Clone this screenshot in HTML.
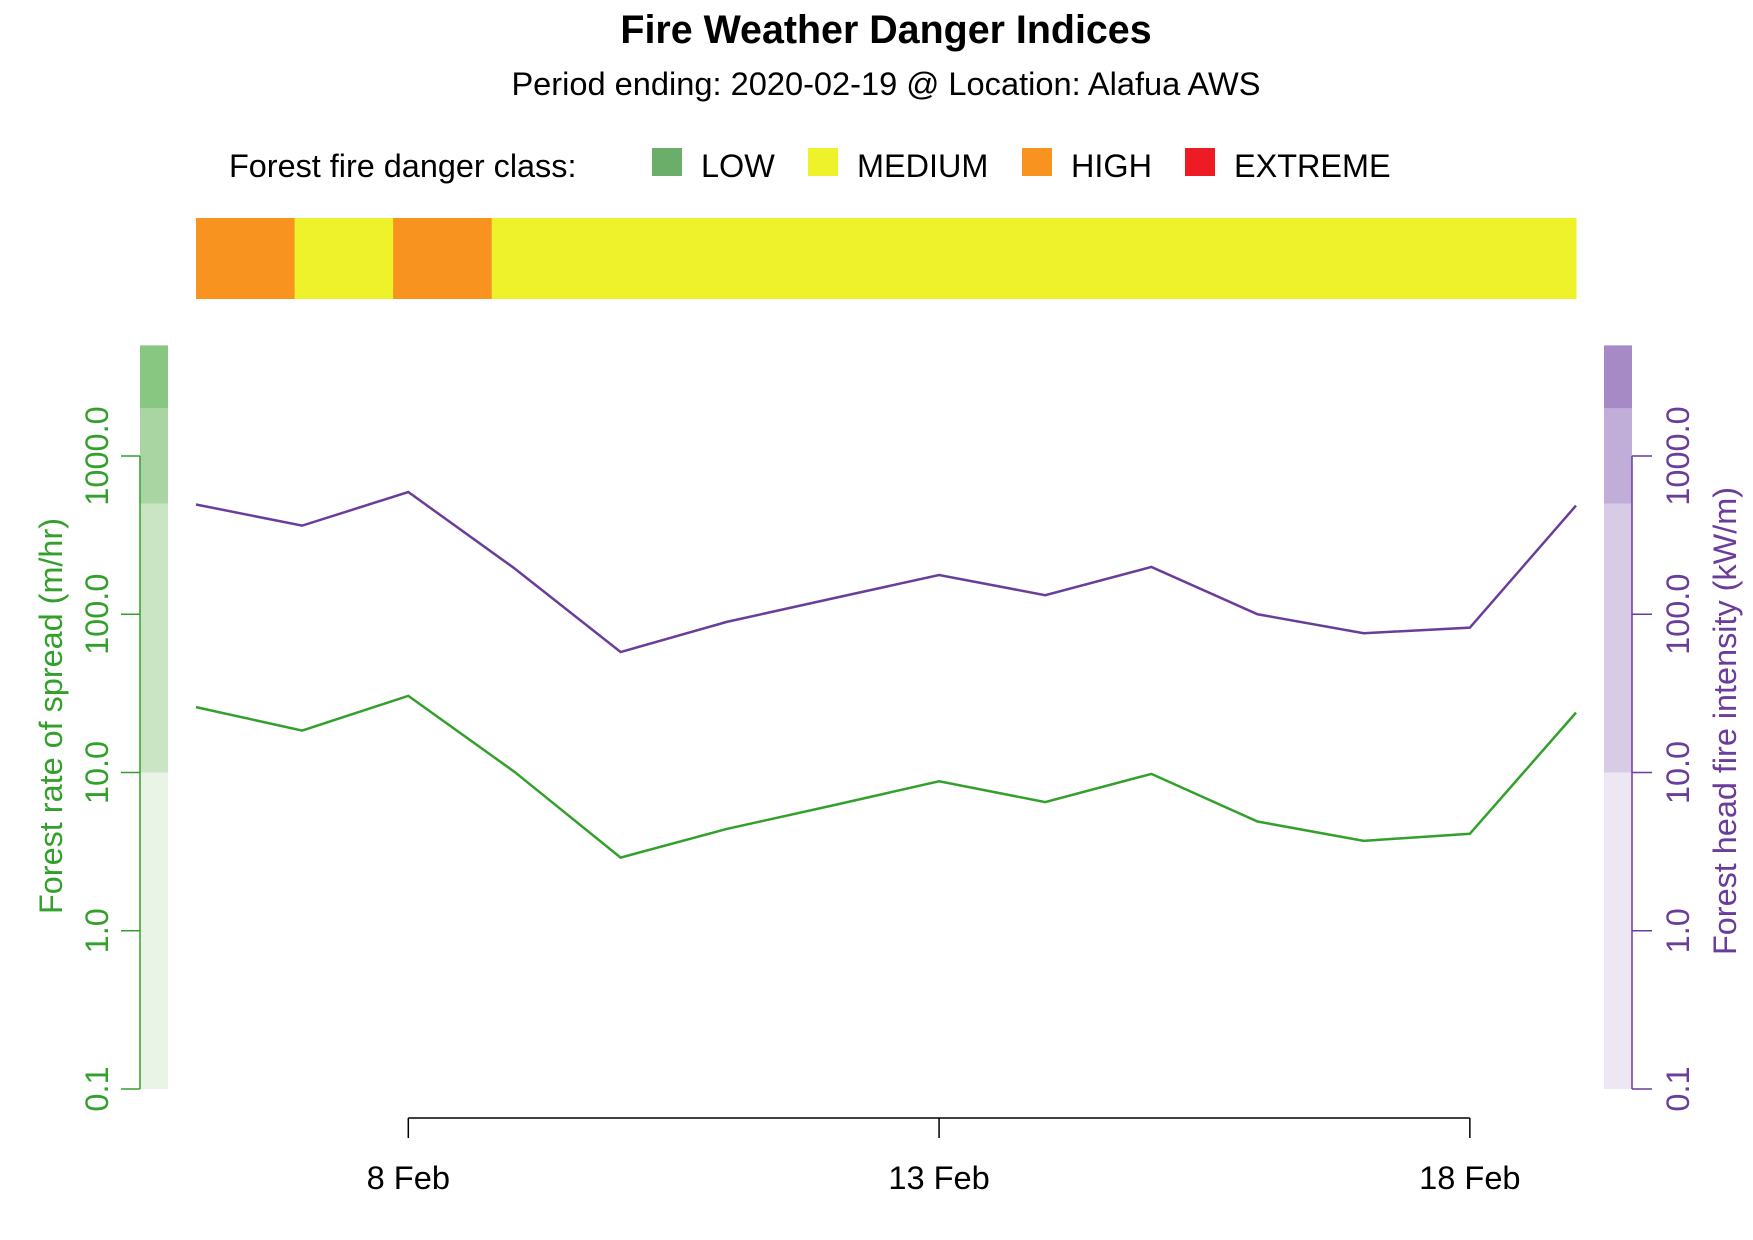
<!DOCTYPE html>
<html><head><meta charset="utf-8"><style>
html,body{margin:0;padding:0;background:#fff;}
svg{display:block;font-family:"Liberation Sans",Arial,sans-serif;}
</style></head><body>
<svg id="chart" width="1753" height="1240" viewBox="0 0 1753 1240">
<text x="886" y="43" text-anchor="middle" font-size="39.4" font-weight="bold">Fire Weather Danger Indices</text>
<text x="886" y="95" text-anchor="middle" font-size="32.6">Period ending: 2020-02-19 @ Location: Alafua AWS</text>
<g>
<text x="229" y="177" font-size="32.4">Forest fire danger class:</text>
<rect x="652" y="148" width="30" height="28" fill="#6aae6a"/>
<text x="701" y="177" font-size="32.4">LOW</text>
<rect x="808" y="148" width="30" height="28" fill="#eef22a"/>
<text x="857" y="177" font-size="32.4">MEDIUM</text>
<rect x="1022" y="148" width="30" height="28" fill="#f7931e"/>
<text x="1071" y="177" font-size="32.4">HIGH</text>
<rect x="1185" y="148" width="30" height="28" fill="#ed1c24"/>
<text x="1234" y="177" font-size="32.4">EXTREME</text>
</g>
<g id="danger"></g>
<g id="bands"></g>
<g id="axes"></g>
<g id="series"></g>
<text transform="translate(62,716) rotate(-90)" text-anchor="middle" font-size="32.4" fill="#33a02c">Forest rate of spread (m/hr)</text>
<text transform="translate(1736,721) rotate(-90)" text-anchor="middle" font-size="32.4" fill="#6a3d9a">Forest head fire intensity (kW/m)</text>
</svg>
<script>
const days = [6,7,8,9,10,11,12,13,14,15,16,17,18,19];
const rateOfSpread = [25.9,18.4,30.5,10.1,2.9,4.4,6.2,8.8,6.5,9.8,4.9,3.7,4.1,23.9];
const fireIntensity = [494,363,592,195,57.7,89.5,126,177,132,199,100,75.9,82.3,486];
const dangerClass = ["HIGH","MEDIUM","HIGH","MEDIUM","MEDIUM","MEDIUM","MEDIUM","MEDIUM","MEDIUM","MEDIUM","MEDIUM","MEDIUM","MEDIUM","MEDIUM"];
const yTicks = [0.1,1,10,100,1000];
const yTickLabels = ["0.1","1.0","10.0","100.0","1000.0"];
const xTicks = [8,13,18];
const xTickLabels = ["8 Feb","13 Feb","18 Feb"];
const bandEdges = [0.1,10,500,2000,5000];

const NS="http://www.w3.org/2000/svg";
const dangerColors={LOW:"#6aae6a",MEDIUM:"#eef22a",HIGH:"#f7931e",EXTREME:"#ed1c24"};
const greenBands=["#e9f4e7","#c9e5c4","#a8d5a2","#88c781"];
const purpleBands=["#ece7f3","#d8cbe6","#c1aed8","#a68ac6"];
function x(d){return 196+(d-6)*(1576-196)/13;}
function y(v){return 456+(3-Math.log10(v))*158.25;}
function mk(tag,attrs,parent){const e=document.createElementNS(NS,tag);for(const k in attrs)e.setAttribute(k,attrs[k]);document.getElementById(parent).appendChild(e);return e;}

const segW=(1576-196)/dangerClass.length;
dangerClass.forEach((c,i)=>{
  const r=mk("rect",{x:196+i*segW,y:218,width:segW+0.5,height:81,fill:dangerColors[c]},"danger");
  
  
});
for(let i=0;i<4;i++){
  const yt=y(bandEdges[i+1]), yb=y(bandEdges[i]);
  const a=mk("rect",{x:140,y:yt,width:28,height:yb-yt,fill:greenBands[i]},"bands");
  
  
  const b=mk("rect",{x:1604,y:yt,width:28,height:yb-yt,fill:purpleBands[i]},"bands");
  
  
}
const la=mk("line",{x1:140,y1:y(1000),x2:140,y2:y(0.1),stroke:"#33a02c","stroke-width":1.5},"axes");


const ra=mk("line",{x1:1632,y1:y(1000),x2:1632,y2:y(0.1),stroke:"#6a3d9a","stroke-width":1.5},"axes");


yTicks.forEach((v,i)=>{
  const yy=y(v);
  const t1=mk("line",{x1:121,y1:yy,x2:140,y2:yy,stroke:"#33a02c","stroke-width":1.5},"axes");
  
  
  const l1=mk("text",{transform:`translate(108,${yy}) rotate(-90)`,"text-anchor":"middle","font-size":32.5,fill:"#33a02c"},"axes");
  l1.textContent=yTickLabels[i];
  
  
  const t2=mk("line",{x1:1632,y1:yy,x2:1652,y2:yy,stroke:"#6a3d9a","stroke-width":1.5},"axes");
  
  
  const l2=mk("text",{transform:`translate(1689,${yy}) rotate(-90)`,"text-anchor":"middle","font-size":32.5,fill:"#6a3d9a"},"axes");
  l2.textContent=yTickLabels[i];
  
  
});
const xa=mk("line",{x1:x(xTicks[0]),y1:1118,x2:x(xTicks[xTicks.length-1]),y2:1118,stroke:"#000","stroke-width":1.5},"axes");


xTicks.forEach((d,i)=>{
  const t=mk("line",{x1:x(d),y1:1118,x2:x(d),y2:1138,stroke:"#000","stroke-width":1.5},"axes");
  
  
  const l=mk("text",{x:x(d),y:1189,"text-anchor":"middle","font-size":32.6},"axes");
  l.textContent=xTickLabels[i];
  
  
});
const p1=mk("polyline",{points:days.map((d,i)=>x(d)+","+y(rateOfSpread[i])).join(" "),fill:"none",stroke:"#33a02c","stroke-width":2.5},"series");


const p2=mk("polyline",{points:days.map((d,i)=>x(d)+","+y(fireIntensity[i])).join(" "),fill:"none",stroke:"#6a3d9a","stroke-width":2.5},"series");


</script>
</body></html>
